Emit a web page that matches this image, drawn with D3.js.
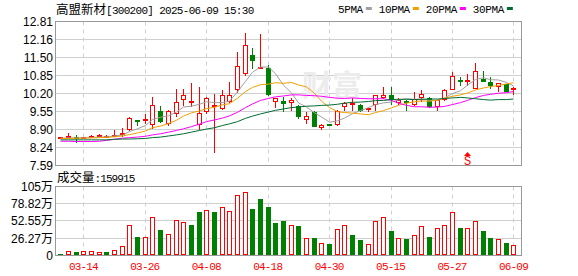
<!DOCTYPE html>
<html>
<head>
<meta charset="utf-8">
<style>
body { margin: 0; background: #fff; }
svg { display: block; }
text { font-family: "Liberation Sans", Arial, sans-serif; }
</style>
</head>
<body>
<svg width="578" height="276"></svg>
<script src="https://cdn.jsdelivr.net/npm/d3@7/dist/d3.min.js"></script>
<script>
// ---- data ----
var dates = ["03-11","03-12","03-13","03-14","03-17","03-18","03-19","03-20","03-21","03-24",
  "03-25","03-26","03-27","03-28","03-31","04-01","04-02","04-03","04-07","04-08",
  "04-09","04-10","04-11","04-14","04-15","04-16","04-17","04-18","04-21","04-22",
  "04-23","04-24","04-25","04-28","04-29","04-30","05-06","05-07","05-08","05-09",
  "05-12","05-13","05-14","05-15","05-16","05-19","05-20","05-21","05-22","05-23",
  "05-26","05-27","05-28","05-29","05-30","06-03","06-04","06-05","06-06","06-09"];

var open = [8.56,8.58,8.58,8.56,8.60,8.64,8.62,8.64,8.68,8.86,
  9.21,9.20,9.06,9.55,9.10,9.46,9.95,9.85,9.07,9.52,
  9.70,9.65,9.88,10.31,10.90,11.58,11.10,11.13,9.91,9.93,
  9.86,9.76,9.25,9.52,8.96,9.05,9.06,9.70,9.80,9.80,
  9.62,9.77,10.03,10.13,9.86,9.89,9.79,10.04,10.04,9.70,
  9.98,10.33,10.66,10.61,10.35,10.71,10.61,10.44,10.55,10.33];
var high = [8.60,8.77,8.70,8.62,8.69,8.72,8.68,8.88,8.95,9.34,
  9.25,9.44,10.09,9.76,9.59,10.35,10.35,10.58,10.45,10.07,
  10.19,10.34,10.60,11.72,12.38,11.85,12.34,11.22,10.04,10.06,
  10.02,9.78,9.52,9.58,9.10,9.08,9.60,9.91,10.03,9.82,
  9.66,10.15,10.42,10.42,10.05,9.95,10.25,10.31,10.07,9.98,
  10.36,10.97,10.79,10.91,11.30,11.00,10.79,10.59,10.55,10.43];
var low = [8.55,8.57,8.40,8.54,8.58,8.62,8.60,8.62,8.64,8.84,
  9.02,9.10,8.92,9.13,9.04,9.34,9.76,9.70,8.86,9.47,
  8.04,9.62,9.86,10.22,10.85,11.09,11.08,10.12,9.66,9.54,
  9.57,9.28,9.10,8.98,8.86,9.02,9.04,9.55,9.58,9.53,
  9.53,9.58,10.00,9.80,9.78,9.56,9.76,9.90,9.68,9.58,
  9.92,10.31,10.47,10.49,10.35,10.62,10.37,10.27,10.27,10.16];
var close = [8.58,8.62,8.56,8.58,8.66,8.70,8.64,8.70,8.76,9.32,
  9.19,9.24,9.79,9.16,9.55,9.91,10.16,9.91,9.50,10.05,
  9.76,10.15,10.15,11.20,11.97,11.37,11.13,10.14,10.03,9.83,
  9.98,9.34,9.37,9.00,9.05,9.03,9.58,9.85,9.83,9.56,
  9.64,10.13,10.15,9.95,9.96,9.87,10.01,10.19,9.70,9.98,
  10.33,10.82,10.63,10.70,11.03,10.63,10.49,10.59,10.27,10.35];
var prevClose = 8.60;

var ma5 = [8.58,8.59,8.59,8.59,8.60,8.62,8.63,8.66,8.69,8.82,
  8.92,9.04,9.26,9.34,9.39,9.53,9.71,9.74,9.81,9.90,
  9.87,9.87,9.92,10.26,10.64,10.97,11.16,11.16,10.92,10.50,
  10.22,9.86,9.71,9.50,9.35,9.16,9.21,9.31,9.47,9.58,
  9.69,9.80,9.86,9.89,9.97,10.01,9.99,10.00,9.95,9.95,
  10.04,10.20,10.30,10.50,10.71,10.77,10.70,10.69,10.60,10.47];
var ma10 = [8.57,8.57,8.58,8.58,8.59,8.60,8.61,8.63,8.66,8.71,
  8.77,8.84,8.96,9.02,9.11,9.23,9.38,9.50,9.57,9.65,
  9.70,9.79,9.83,10.03,10.27,10.42,10.52,10.54,10.59,10.57,
  10.60,10.51,10.44,10.21,9.92,9.69,9.54,9.51,9.49,9.46,
  9.43,9.51,9.58,9.68,9.77,9.85,9.90,9.93,9.92,9.96,
  10.03,10.10,10.15,10.22,10.33,10.40,10.45,10.49,10.55,10.59];
var ma20 = [8.47,8.47,8.46,8.46,8.46,8.47,8.50,8.54,8.58,8.60,
  8.62,8.65,8.70,8.74,8.80,8.86,8.92,9.00,9.09,9.18,
  9.24,9.31,9.39,9.52,9.69,9.82,9.95,10.02,10.08,10.11,
  10.15,10.15,10.13,10.12,10.10,10.06,10.03,10.02,10.04,10.02,
  10.01,10.01,10.01,9.95,9.85,9.77,9.72,9.72,9.70,9.71,
  9.73,9.80,9.87,9.95,10.05,10.13,10.17,10.21,10.23,10.27];
var ma30 = [8.52,8.52,8.52,8.52,8.52,8.52,8.52,8.54,8.55,8.55,
  8.56,8.57,8.60,8.62,8.66,8.70,8.74,8.80,8.86,8.91,
  8.96,9.04,9.10,9.18,9.30,9.38,9.46,9.53,9.59,9.64,
  9.69,9.71,9.74,9.75,9.77,9.78,9.81,9.85,9.88,9.89,
  9.91,9.94,9.95,9.98,9.99,9.99,9.98,9.99,10.00,10.00,
  10.02,10.04,10.06,10.04,10.01,9.98,9.96,9.98,9.98,10.00];

// volume in 万
var volume = [3.0,7.6,5.1,6.1,6.1,4.6,5.1,8.6,14.7,47.2,
  28.9,28.4,58.9,38.1,33.0,54.3,51.3,47.2,67.0,69.6,
  65.5,74.6,68.1,92.9,97.0,70.1,86.8,74.6,49.2,51.8,
  47.2,44.2,27.4,25.9,18.3,16.8,39.6,47.2,30.5,23.4,
  16.8,53.3,57.9,36.6,27.4,24.4,30.5,44.2,28.9,42.6,
  45.7,67.0,42.6,42.6,51.8,36.6,27.4,24.4,18.3,15.9915];

var priceTicks = [7.59,8.24,8.90,9.55,10.20,10.85,11.50,12.16,12.81];
var volTicks = [0,26.27,52.55,78.82,105.09];
var volTickLabels = ["0","26.27万","52.55万","78.82万","105万"];
var tickDates = ["03-14","03-26","04-08","04-18","04-30","05-15","05-27","06-09"];
var signalDates = ["05-29"];

var maNames = ["5PMA","10PMA","20PMA","30PMA"];
var maColors = ["#a0a0a0","#f0a000","#ff00ff","#006b33"];
var maSeries = [ma5, ma10, ma20, ma30];

// ---- layout ----
var svg = d3.select("svg");
var left = 55.5, right = 521.5;
var pTop = 21.5, pBot = 165.5, vTop = 186.5, vBot = 255.5;
var red = "#ff0000", green = "#008000";

var x = d3.scaleBand().domain(dates).range([56.5, 517.3]).padding(0);
var y = d3.scaleLinear().domain([7.59, 12.81]).range([pBot, pTop]);
var yv = d3.scaleLinear().domain([0, 105.09]).range([vBot, vTop]);
function cx(d) { return Math.round(x(d) + x.bandwidth() / 2) + 0.5; }

// horizontal grid
svg.append("g").selectAll("line").data(priceTicks).join("line")
  .attr("x1", left).attr("x2", right)
  .attr("y1", function(d) { return Math.round(y(d) - 0.5) + 0.5; })
  .attr("y2", function(d) { return Math.round(y(d) - 0.5) + 0.5; })
  .attr("stroke", "#cfcfcf");
svg.append("g").selectAll("line").data(volTicks).join("line")
  .attr("x1", left).attr("x2", right)
  .attr("y1", function(d) { return Math.round(yv(d) - 0.5) + 0.5; })
  .attr("y2", function(d) { return Math.round(yv(d) - 0.5) + 0.5; })
  .attr("stroke", "#cfcfcf");

// vertical dashed grid
[[pTop, pBot], [vTop, vBot]].forEach(function(r) {
  svg.append("g").selectAll("line").data(tickDates).join("line")
    .attr("x1", cx).attr("x2", cx)
    .attr("y1", r[0]).attr("y2", r[1])
    .attr("stroke", "#cfcfcf")
    .attr("stroke-dasharray", "4,4");
});

// watermark
svg.append("text").attr("x", 302).attr("y", 96)
  .style("font-family", "'Noto Sans CJK SC'").style("font-size", "30px")
  .style("font-weight", "bold").attr("fill", "#ececec").text("财富");

// candles
var cg = svg.append("g").attr("shape-rendering", "crispEdges");
dates.forEach(function(d, i) {
  var up = close[i] >= open[i], col = up ? red : green;
  var xc = cx(d);
  cg.append("line").attr("x1", xc).attr("x2", xc)
    .attr("y1", Math.round(y(high[i]))).attr("y2", Math.round(y(low[i])))
    .attr("stroke", col);
  var t = Math.round(y(Math.max(open[i], close[i]))),
      b = Math.round(y(Math.min(open[i], close[i])));
  if (up && b - t >= 3) {
    cg.append("rect").attr("x", xc - 2).attr("width", 4)
      .attr("y", t + 0.5).attr("height", b - t - 1)
      .attr("fill", "#fff").attr("stroke", col);
  } else {
    cg.append("rect").attr("x", xc - 2.5).attr("width", 5)
      .attr("y", t - (b - t < 2 ? 1 : 0)).attr("height", Math.max(2, b - t))
      .attr("fill", col);
  }
});

// moving averages
maSeries.forEach(function(s, k) {
  svg.append("path").datum(s)
    .attr("fill", "none").attr("stroke", maColors[k]).attr("stroke-width", 1)
    .attr("d", d3.line().x(function(v, i) { return cx(dates[i]); }).y(function(v) { return y(v); }));
});

// signal marker
signalDates.forEach(function(d) {
  var xc = cx(d);
  svg.append("path").attr("d", "M" + xc + ",152 l3.5,4 h-7 z").attr("fill", red);
  svg.append("text").attr("x", xc).attr("y", 165).attr("text-anchor", "middle")
    .style("font-family", "'Liberation Mono'").style("font-size", "12px")
    .attr("fill", red).text("S");
});

// volume bars
var vg = svg.append("g").attr("shape-rendering", "crispEdges");
dates.forEach(function(d, i) {
  var pc = i === 0 ? prevClose : close[i - 1];
  var up = close[i] >= pc, col = up ? red : green;
  var xc = cx(d), t = Math.round(yv(volume[i]));
  if (up) {
    vg.append("rect").attr("x", xc - 2).attr("width", 4)
      .attr("y", t + 0.5).attr("height", 255 - t - 1)
      .attr("fill", "#fff").attr("stroke", col);
  } else {
    vg.append("rect").attr("x", xc - 2.5).attr("width", 5)
      .attr("y", t).attr("height", 255 - t).attr("fill", col);
  }
});

// frames
[[pTop, pBot], [vTop, vBot]].forEach(function(r) {
  svg.append("rect").attr("x", left).attr("y", r[0])
    .attr("width", right - left).attr("height", r[1] - r[0])
    .attr("fill", "none").attr("stroke", "#999").attr("shape-rendering", "crispEdges");
});

// axes
var ya = svg.append("g").attr("transform", "translate(53,0)")
  .call(d3.axisLeft(y).tickValues(priceTicks).tickSize(0).tickPadding(0).tickFormat(d3.format(".2f")));
var va = svg.append("g").attr("transform", "translate(53,0)")
  .call(d3.axisLeft(yv).tickValues(volTicks).tickSize(0).tickPadding(0)
    .tickFormat(function(d, i) { return volTickLabels[i]; }));
[ya, va].forEach(function(g) {
  g.select(".domain").remove();
  g.selectAll("text").style("font-family", "'Liberation Sans', 'Noto Sans CJK SC'")
    .style("font-size", "12px").attr("fill", "#000");
});

var xa = svg.append("g").attr("transform", "translate(0,259)")
  .call(d3.axisBottom(x).tickValues(tickDates).tickSize(0).tickPadding(3));
xa.select(".domain").remove();
xa.selectAll("text").style("font-family", "'Liberation Mono'").style("font-size", "11px")
  .style("letter-spacing", "-0.8px").attr("fill", red);

// title
var title = svg.append("text").attr("x", 56).attr("y", 14).attr("fill", "#000");
title.append("tspan").style("font-family", "'Noto Sans CJK SC'").style("font-size", "12.5px").text("高盟新材");
title.append("tspan").style("font-family", "'Liberation Mono'").style("font-size", "11px")
  .style("letter-spacing", "-0.7px").text("[300200] 2025-06-09 15:30");

// legend
var lx = 338;
maNames.forEach(function(n, k) {
  var t = svg.append("text").attr("x", lx).attr("y", 13)
    .style("font-family", "'Liberation Mono'").style("font-size", "11px")
    .style("letter-spacing", "-0.4px").attr("fill", "#000").text(n);
  var w = t.node().getComputedTextLength();
  svg.append("rect").attr("x", lx + w + 3).attr("y", 7).attr("width", 6).attr("height", 3)
    .attr("fill", maColors[k]);
  lx += w + 3 + 6 + 7;
});

// volume title
var vt = svg.append("text").attr("x", 57).attr("y", 182).attr("fill", "#000");
vt.append("tspan").style("font-family", "'Noto Sans CJK SC'").style("font-size", "12.5px").text("成交量");
vt.append("tspan").style("font-family", "'Liberation Mono'").style("font-size", "11px")
  .style("letter-spacing", "-0.9px").text(":" + Math.round(volume[volume.length - 1] * 10000));
</script>
</body>
</html>
